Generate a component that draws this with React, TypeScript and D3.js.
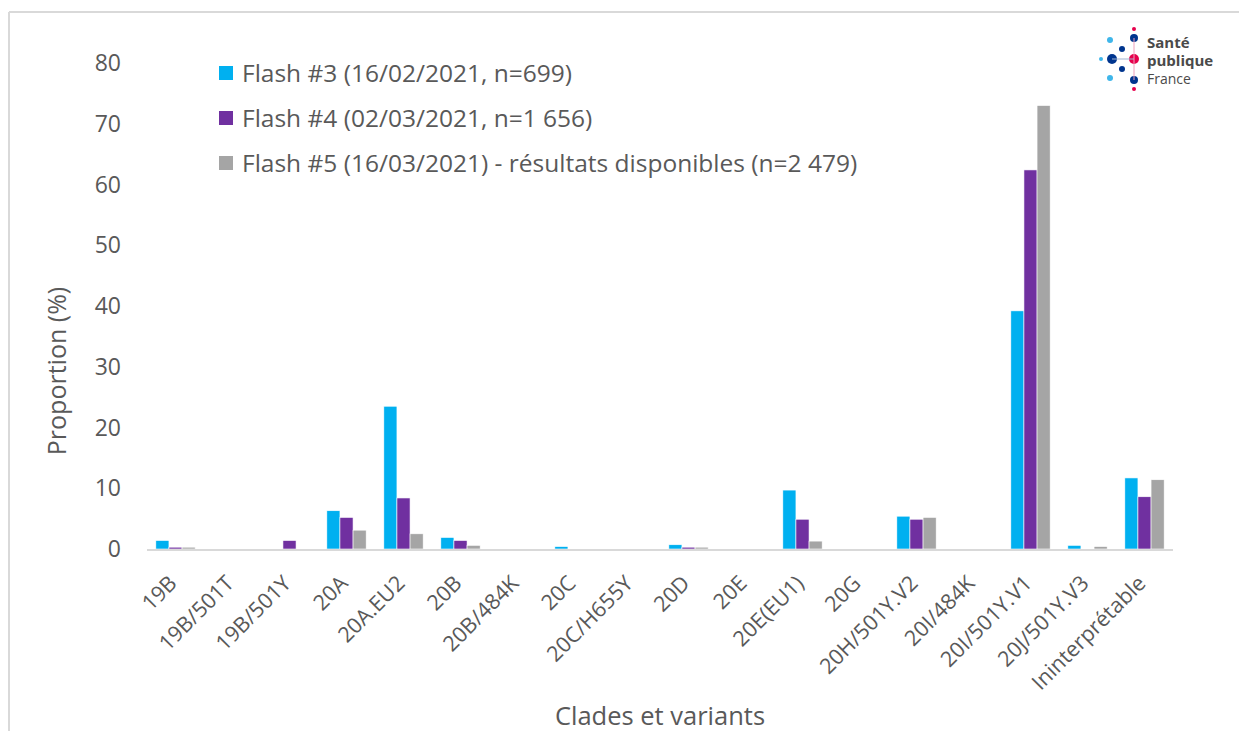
import React from "react";
import * as d3 from "d3";

const categories = ["19B","19B/501T","19B/501Y","20A","20A.EU2","20B","20B/484K","20C","20C/H655Y","20D","20E","20E(EU1)","20G","20H/501Y.V2","20I/484K","20I/501Y.V1","20J/501Y.V3","Ininterprétable"];
const flash3 = [1.4,0,0,6.3,23.5,1.9,0,0.4,0,0.7,0,9.7,0,5.4,0,39.2,0.6,11.7];
const flash4 = [0.3,0,1.4,5.2,8.4,1.4,0,0,0,0.3,0,4.9,0,4.9,0,62.4,0,8.6];
const flash5 = [0.3,0,0,3.1,2.5,0.6,0,0,0,0.3,0,1.3,0,5.2,0,73.0,0.4,11.4];
const seriesNames = ["Flash #3 (16/02/2021, n=699)","Flash #4 (02/03/2021, n=1 656)","Flash #5 (16/03/2021) - résultats disponibles (n=2 479)"];
const seriesColors = ["#00B0F0","#7030A0","#A5A5A5"];
const yTicks = [0,10,20,30,40,50,60,70,80];

const W = 1239, H = 731;
const FONT = "'Open Sans', sans-serif";
const TXT = "#595959";

export default function App() {
  const left = 147, right = 1173, top = 63, bottom = 549;
  const x = d3.scaleBand<string>().domain(categories).range([left, right]).paddingInner(0.31).paddingOuter(0.155);
  const y = d3.scaleLinear().domain([0, 80]).range([bottom, top]);
  const series = [flash3, flash4, flash5];
  const bw = x.bandwidth() / 3;

  return (
    <svg width={W} height={H} style={{ position: "absolute", left: 0, top: 0, background: "#fff" }} fontFamily={FONT}>
      <rect x={0} y={0} width={W} height={H} fill="#fff" />
      <line x1={9} y1={12} x2={W} y2={12} stroke="#d9d9d9" strokeWidth={2} />
      <line x1={9} y1={12} x2={9} y2={H} stroke="#d9d9d9" strokeWidth={2} />
      {yTicks.map((t) => (
        <text key={t} x={121} y={y(t)} dy="0.35em" textAnchor="end" fontSize={23} fill={TXT}>{t}</text>
      ))}
      {series.map((vals, si) =>
        vals.map((v, i) => (
          <rect key={`${si}-${i}`} x={(x(categories[i]) as number) + si * bw} y={y(v)} width={bw} height={bottom - y(v)}
            fill={seriesColors[si]} stroke="#fff" strokeWidth={0.6} />
        ))
      )}
      <line x1={left} x2={right} y1={bottom + 1} y2={bottom + 1} stroke="#d9d9d9" strokeWidth={2} />
      {categories.map((c) => {
        const cx = (x(c) as number) + x.bandwidth() / 2;
        return (
          <text key={c} transform={`translate(${cx - 8},${bottom + 25}) rotate(-45)`} textAnchor="end" dy="0.7em" fontSize={21.5} fill={TXT}>{c}</text>
        );
      })}
      <text x={660} y={725} textAnchor="middle" fontSize={25.5} fill={TXT}>Clades et variants</text>
      <text transform={`translate(66,371) rotate(-90)`} textAnchor="middle" fontSize={25} fill={TXT}>Proportion (%)</text>
      {seriesNames.map((n, i) => (
        <g key={n} transform={`translate(219,${73 + i * 45})`}>
          <rect x={0} y={-7} width={14} height={14} fill={seriesColors[i]} />
          <text x={23} y={0} dy="0.35em" fontSize={24.5} fill={TXT}>{n}</text>
        </g>
      ))}
      <g transform="translate(1098,27)">
        <circle cx={36} cy={2} r={2} fill="#E6004C" />
        <circle cx={36} cy={11} r={4} fill="#00358E" />
        <circle cx={36} cy={32} r={5} fill="#E6004C" />
        <circle cx={36} cy={53} r={4} fill="#00358E" />
        <circle cx={36} cy={62} r={2} fill="#E6004C" />
        <circle cx={14} cy={32} r={5} fill="#00358E" />
        <circle cx={3} cy={32} r={2} fill="#3FB6EA" />
        <circle cx={24} cy={22} r={3} fill="#00358E" />
        <circle cx={24} cy={42} r={3} fill="#00358E" />
        <circle cx={12} cy={13} r={3} fill="#3FB6EA" />
        <circle cx={12} cy={51} r={3} fill="#3FB6EA" />
        <line x1={14} y1={32} x2={36} y2={32} stroke="#9fb3d1" strokeWidth={1} />
        <line x1={36} y1={11} x2={36} y2={53} stroke="#f0a0bb" strokeWidth={1} />
        <text x={49} y={21} fontSize={15} fontWeight="bold" fill="#4a4a4a">Santé</text>
        <text x={49} y={39} fontSize={15} fontWeight="bold" fill="#4a4a4a">publique</text>
        <text x={49} y={57} fontSize={14} fill="#4a4a4a">France</text>
      </g>
    </svg>
  );
}
